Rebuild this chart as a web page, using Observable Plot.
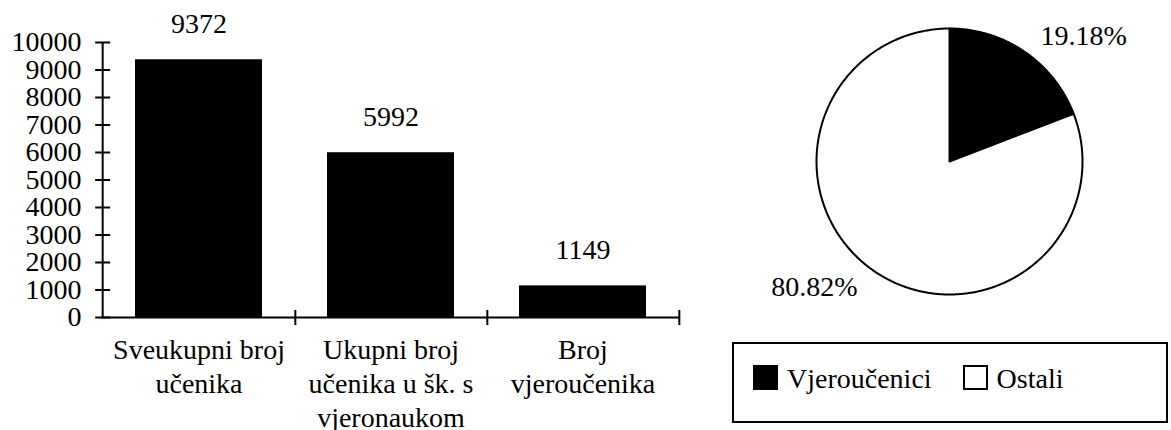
<!DOCTYPE html>
<html>
<head>
<meta charset="utf-8">
<script src="https://cdn.jsdelivr.net/npm/d3@7"></script>
<script src="https://cdn.jsdelivr.net/npm/@observablehq/plot@0.6"></script>
<style>
  html, body { margin: 0; padding: 0; background: #fff; }
  #wrap { position: relative; width: 1171px; height: 430px; background: #fff; overflow: hidden; color: #000; }
  #bars { position: absolute; left: 0; top: 0; }
  #pie { position: absolute; left: 760px; top: 0; }
  #legend { position: absolute; left: 732px; top: 342px; width: 436px; height: 81px; box-sizing: border-box;
            border: 2px solid #000; display: flex; align-items: flex-start; padding: 21px 0 0 19px;
            font-size: 28px; line-height: 28px; }
  .sw { width: 25px; height: 25px; box-sizing: border-box; border: 2px solid #000; flex: none; margin-right: 9px; }
  .lab { margin-right: 31px; white-space: nowrap; }
</style>
</head>
<body>
<div id="wrap">
  <div id="bars"></div>
  <div id="pie"></div>
  <div id="legend"></div>
</div>
<script>
// ---- data ----
const categories = ["Sveukupni broj učenika", "Ukupni broj učenika u šk. s vjeronaukom", "Broj vjeroučenika"];
const tickLabels = ["Sveukupni broj\nučenika", "Ukupni broj\nučenika u šk. s\nvjeronaukom", "Broj\nvjeroučenika"];
const barValues = [9372, 5992, 1149];
const yTicks = [0, 1000, 2000, 3000, 4000, 5000, 6000, 7000, 8000, 9000, 10000];
const pieNames = ["Vjeroučenici", "Ostali"];
const pieValues = [19.18, 80.82];

// ---- styles ----
const FONT = '"Liberation Serif", "Times New Roman", serif';
const sliceFill = {"Vjeroučenici": "#000", "Ostali": "#fff"};
document.getElementById("wrap").style.fontFamily = FONT;
document.getElementById("legend").style.fontFamily = FONT;

// ---- bar chart ----
const W = 700, H = 430, ML = 101, MR = 21, MT = 42, MB = 113;
const step = (W - ML - MR) / categories.length;
const barData = categories.map((c, i) => ({cat: c, value: barValues[i], label: tickLabels[i]}));
const labelOf = Object.fromEntries(barData.map(d => [d.cat, d.label]));

const hline = {draw(ctx, size) { const r = Math.sqrt(size / Math.PI); ctx.moveTo(-r, 0); ctx.lineTo(r, 0); }};
const vline = {draw(ctx, size) { const r = Math.sqrt(size / Math.PI); ctx.moveTo(0, -r); ctx.lineTo(0, r); }};

const bars = Plot.plot({
  width: W, height: H,
  marginLeft: ML, marginRight: MR, marginTop: MT, marginBottom: MB,
  x: {domain: categories, paddingInner: 0.34, paddingOuter: 0.17, label: null},
  y: {domain: [0, 10000], label: null},
  marks: [
    Plot.barY(barData, {x: "cat", y: "value", fill: "#000"}),
    Plot.ruleY([0], {stroke: "#000", strokeWidth: 2}),
    Plot.ruleX([categories[0]], {x: d => d, y1: 0, y2: 10000, dx: -step / 2, stroke: "#000", strokeWidth: 2}),
    Plot.dot(yTicks, {x: () => categories[0], y: d => d, dx: -step / 2, symbol: hline, r: 7.5, stroke: "#000", strokeWidth: 2, fill: "none"}),
    Plot.dot(categories, {x: d => d, y: () => 0, dx: step / 2, symbol: vline, r: 7.5, stroke: "#000", strokeWidth: 2, fill: "none"}),
    Plot.axisY(yTicks, {tickSize: 0, tickPadding: 20, tickFormat: d3.format("d"), fontSize: 28, fontFamily: FONT, label: null}),
    Plot.axisX({tickSize: 0, tickPadding: 18, tickFormat: d => labelOf[d], lineHeight: 1.2, fontSize: 28, fontFamily: FONT, label: null}),
    Plot.text(barData, {x: "cat", y: "value", text: d => String(d.value), dy: -36, fontSize: 28, fontFamily: FONT, fill: "#000"})
  ]
});
bars.style.fontFamily = FONT;
bars.style.overflow = "visible";
document.getElementById("bars").appendChild(bars);

// ---- pie chart ----
const arcs = d3.pie().sort(null).value(d => d)(pieValues);
const slicePts = [];
const labels = [];
arcs.forEach((a, i) => {
  const name = pieNames[i];
  slicePts.push({name, x: 0, y: 0});
  const n = Math.max(2, Math.ceil((a.endAngle - a.startAngle) / 0.01));
  for (let k = 0; k <= n; k++) {
    const t = a.startAngle + (a.endAngle - a.startAngle) * k / n;
    slicePts.push({name, x: Math.sin(t), y: Math.cos(t)});
  }
  slicePts.push({name, x: 0, y: 0});
  const mid = (a.startAngle + a.endAngle) / 2;
  labels.push({name, x: 1.1 * Math.sin(mid), y: 1.1 * Math.cos(mid), text: pieValues[i].toFixed(2) + "%"});
});

const pie = Plot.plot({
  width: 411, height: 300,
  marginLeft: 56, marginRight: 89, marginTop: 28, marginBottom: 6,
  x: {domain: [-1, 1], axis: null},
  y: {domain: [-1, 1], axis: null},
  color: {type: "identity"},
  marks: [
    Plot.line(slicePts, {x: "x", y: "y", z: "name", fill: d => sliceFill[d.name], stroke: "#000", strokeWidth: 2, strokeLinejoin: "round", curve: "linear"}),
    Plot.text(labels.filter(d => d.x >= 0), {x: "x", y: "y", text: "text", textAnchor: "start", dx: 8, dy: -5, fontSize: 28, fontFamily: FONT, fill: "#000"}),
    Plot.text(labels.filter(d => d.x < 0), {x: "x", y: "y", text: "text", textAnchor: "end", dx: -9, dy: 5, fontSize: 28, fontFamily: FONT, fill: "#000"})
  ]
});
pie.style.fontFamily = FONT;
pie.style.background = "transparent";
pie.style.overflow = "visible";
document.getElementById("pie").appendChild(pie);

// ---- legend ----
const legend = document.getElementById("legend");
pieNames.forEach(name => {
  const sw = document.createElement("span");
  sw.className = "sw";
  sw.style.background = sliceFill[name];
  const lab = document.createElement("span");
  lab.className = "lab";
  lab.textContent = name;
  legend.appendChild(sw);
  legend.appendChild(lab);
});
</script>
</body>
</html>
